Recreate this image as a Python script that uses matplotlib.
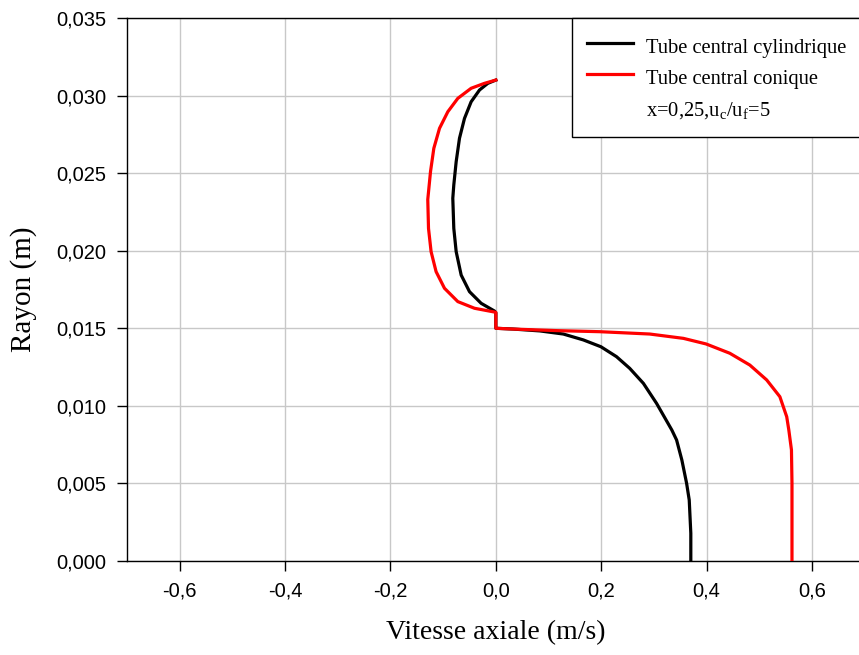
import numpy as np
import matplotlib
matplotlib.use('Agg')
import matplotlib.pyplot as plt
from matplotlib.lines import Line2D

# Profils de vitesse axiale
cyl_v = [0.370, 0.370, 0.367, 0.362, 0.353, 0.343, 0.334, 0.305, 0.280, 0.254,
         0.229, 0.1994, 0.166, 0.128, 0.0836, 0.033, 0.0, 0.0,
         -0.0025, -0.0279, -0.050, -0.0658, -0.0753, -0.0798, -0.0817, -0.0798,
         -0.0753, -0.069, -0.0595, -0.0469, -0.031, -0.0152, 0.0]
cyl_r = [0.0, 0.00179, 0.00393, 0.00501, 0.00651, 0.0078, 0.00844, 0.01016, 0.01145, 0.01242,
         0.01317, 0.01381, 0.01425, 0.01463, 0.01483, 0.01495, 0.0150, 0.0160,
         0.01611, 0.01661, 0.01736, 0.01843, 0.01994, 0.02144, 0.02338, 0.02424,
         0.02574, 0.02725, 0.02853, 0.0296, 0.03036, 0.03079, 0.0310]

con_v = [0.562, 0.562, 0.561, 0.556, 0.552, 0.539, 0.514, 0.482, 0.444, 0.399,
         0.356, 0.292, 0.1975, 0.115, 0.033, 0.0, 0.0,
         -0.0405, -0.0722, -0.0975, -0.1134, -0.1229, -0.1278, -0.1292,
         -0.124, -0.1177, -0.1069, -0.0911, -0.0722, -0.0469, -0.0215, 0.0]
con_r = [0.0, 0.005, 0.00716, 0.00844, 0.0093, 0.01059, 0.01167, 0.01263, 0.01339, 0.01399,
         0.01435, 0.01463, 0.01478, 0.01485, 0.01495, 0.0150, 0.01603,
         0.01629, 0.01672, 0.01758, 0.01865, 0.01994, 0.02144, 0.0233,
         0.0251, 0.0266, 0.02789, 0.02896, 0.02982, 0.03047, 0.03079, 0.0310]

x_ticks = [-0.6, -0.4, -0.2, 0.0, 0.2, 0.4, 0.6]
y_ticks = [0.0, 0.005, 0.010, 0.015, 0.020, 0.025, 0.030, 0.035]

plt.rcParams['mathtext.fontset'] = 'custom'
plt.rcParams['mathtext.rm'] = 'Liberation Serif'
plt.rcParams['mathtext.it'] = 'Liberation Serif'

fig = plt.figure(figsize=(8.59, 6.55), dpi=100)
ax = fig.add_axes([127 / 859, 1 - 561 / 655, (864.7 - 127) / 859, (561 - 18) / 655])

ax.plot(cyl_v, cyl_r, color='black', lw=2.3, zorder=3, solid_joinstyle='round')
ax.plot(con_v, con_r, color='red', lw=2.3, zorder=4, solid_joinstyle='round')

ax.set_xlim(-0.7, 0.7)
ax.set_ylim(0, 0.035)
ax.set_xticks(x_ticks)
ax.set_yticks(y_ticks)
ax.set_xticklabels([f'{v:.1f}'.replace('.', ',') for v in x_ticks],
                   family='Liberation Sans', fontsize=14.5)
ax.set_yticklabels([f'{v:.3f}'.replace('.', ',') for v in y_ticks],
                   family='Liberation Sans', fontsize=14.5)
ax.tick_params(direction='out', length=7, width=1, pad=8)
ax.grid(True, color='#c8c8c8', lw=1)
ax.set_axisbelow(True)
for s in ['left', 'bottom', 'top']:
    ax.spines[s].set_linewidth(1)
ax.spines['right'].set_visible(False)

ax.set_xlabel('Vitesse axiale (m/s)', family='Liberation Serif', fontsize=20, labelpad=14)
ax.set_ylabel('Rayon (m)', family='Liberation Serif', fontsize=21, labelpad=14)

handles = [Line2D([], [], color='black', lw=2.3),
           Line2D([], [], color='red', lw=2.3),
           Line2D([], [], color='none')]
labels = ['Tube central cylindrique', 'Tube central conique',
          r'x=0,25,u$_\mathrm{c}$/u$_\mathrm{f}$=5']
leg = ax.legend(handles, labels, loc='upper left',
                bbox_to_anchor=(572 / 859, 1 - 18 / 655), bbox_transform=fig.transFigure,
                borderaxespad=0, fancybox=False, framealpha=1, edgecolor='black',
                prop={'family': 'Liberation Serif', 'size': 14.8},
                handlelength=2.2, handletextpad=0.65, borderpad=0.75,
                handleheight=1.6, labelspacing=0.22)
leg.get_frame().set_linewidth(1)
leg.set_zorder(10)

fig.savefig('out.png', dpi=100)
